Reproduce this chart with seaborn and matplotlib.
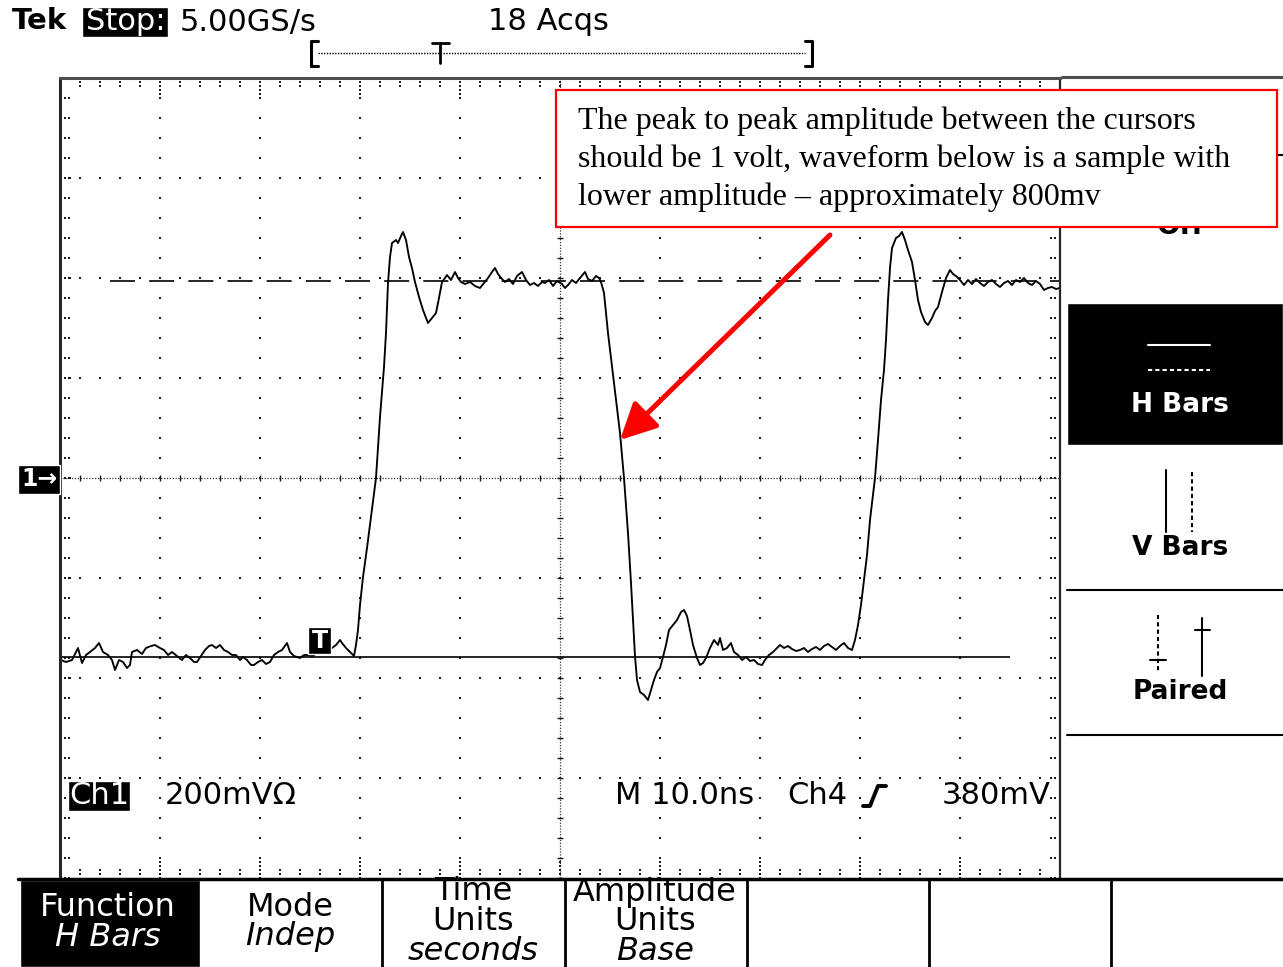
import numpy as np
import matplotlib.pyplot as plt
import seaborn as sns
from matplotlib.patches import Rectangle, FancyArrowPatch
from matplotlib.lines import Line2D

# ── CONFIG ────────────────────────────────────────────────────────────────────
OUT_FILE = "out.png"
W, H = 1283, 967            # screen size in pixels

NS_PER_DIV = 10             # M 10.0ns
MV_PER_DIV = 200            # Ch1 200mV

# ── DATA ──────────────────────────────────────────────────────────────────────
# time (ns from left edge of graticule) and Ch1 voltage (mV from the 1-> marker)
TRACE_T_NS = [
    # low level before the trigger
    0.1, 0.6, 1.2, 1.8, 2.2, 2.6, 3.0, 3.5, 3.9, 4.3,
    4.8, 5.2, 5.5, 5.9, 6.3, 6.7, 7.0, 7.2, 7.7, 8.2,
    8.6, 9.1, 9.5, 10.0, 10.4, 10.8, 11.2, 11.7, 12.2, 12.6,
    13.0, 13.4, 13.7, 14.1, 14.5, 14.9, 15.2, 15.6, 16.0, 16.4,
    16.8, 17.2, 17.6, 18.0, 18.3, 18.7, 19.1, 19.4, 19.8, 20.2,
    20.6, 21.0, 21.4, 21.8, 22.2, 22.7, 23.0, 23.4, 24.0, 24.4,
    24.8, 25.2, 25.6, 26.0, 26.4, 26.8, 27.2, 27.6, 28.0, 28.2,
    28.6, 29.0, 29.4,
    # first rising edge + high level
    29.6, 29.8, 30.0, 30.3, 30.7, 31.1, 31.6, 32.0, 32.4, 32.6,
    32.8, 33.0, 33.2, 33.6, 33.8, 34.1, 34.3, 34.6, 34.9, 35.2,
    35.5, 35.9, 36.3, 36.8, 37.2, 37.6, 37.9, 38.2, 38.5, 38.7,
    39.1, 39.5, 39.8, 40.1, 40.5, 41.0, 41.5, 42.0, 42.4, 42.8,
    43.2, 43.5, 43.8, 44.2, 44.5, 44.9, 45.3, 45.7, 46.2, 46.6,
    47.0, 47.4, 47.8, 48.2, 48.5, 48.9, 49.3, 49.7, 50.2, 50.5,
    50.8, 51.2, 51.6, 52.0, 52.5, 52.8, 53.2, 53.6, 53.9, 54.1,
    # falling edge + low level
    54.4, 54.8, 55.4, 56.0, 56.4, 56.8, 57.1, 57.5, 57.7, 58.0,
    58.4, 58.8, 59.1, 59.4, 59.7, 60.0, 60.3, 60.6, 60.9, 61.3,
    61.7, 62.1, 62.4, 62.7, 63.0, 63.3, 63.7, 64.0, 64.3, 64.6,
    65.0, 65.4, 65.8, 66.0, 66.3, 66.7, 67.1, 67.4, 67.8, 68.2,
    68.6, 69.0, 69.4, 69.8, 70.2, 70.5, 70.9, 71.3, 71.7, 72.0,
    72.4, 72.8, 73.2, 73.6, 74.0, 74.4, 74.8, 75.2, 75.6, 76.0,
    76.4, 76.8, 77.2, 77.6, 78.0, 78.4, 78.8, 79.2, 79.5,
    # second rising edge + high level
    79.8, 80.1, 80.4, 80.7, 81.0, 81.3, 81.5, 81.8, 82.1, 82.4,
    82.6, 82.8, 83.0, 83.2, 83.6, 83.9, 84.2, 84.5, 84.8, 85.2,
    85.5, 85.8, 86.1, 86.5, 86.8, 87.2, 87.5, 87.8, 88.2, 88.6,
    89.0, 89.3, 89.6, 90.0, 90.4, 90.8, 91.2, 91.6, 92.0, 92.4,
    92.8, 93.2, 93.6, 94.0, 94.4, 94.8, 95.2, 95.6, 96.0, 96.4,
    96.8, 97.2, 97.6, 98.0, 98.4, 98.8, 99.2, 99.6, 100.0,
]
TRACE_V_MV = [
    -364, -368, -364, -340, -370, -354, -348, -340, -330, -348,
    -354, -364, -384, -364, -368, -380, -374, -348, -344, -352,
    -340, -336, -334, -340, -344, -354, -348, -356, -364, -354,
    -360, -368, -368, -356, -344, -336, -334, -340, -334, -344,
    -348, -354, -354, -364, -358, -364, -374, -374, -368, -364,
    -372, -368, -354, -348, -344, -330, -348, -356, -360, -354,
    -354, -356, -352, -344, -348, -348, -340, -334, -324, -330,
    -340, -348, -356,
    -334, -304, -254, -198, -140, -78, 0, 122, 222, 290,
    390, 442, 470, 476, 470, 484, 492, 476, 442, 420,
    392, 362, 336, 310, 320, 330, 360, 392, 400, 406,
    396, 412, 400, 392, 388, 392, 384, 380, 390, 400,
    412, 420, 408, 398, 392, 398, 388, 404, 412, 396,
    386, 390, 384, 392, 390, 396, 384, 394, 388, 380,
    386, 396, 390, 400, 412, 398, 394, 404, 400, 392,
    370, 290, 190, 90, 0, -110, -210, -356, -404, -428,
    -434, -444, -424, -404, -388, -380, -358, -334, -304, -294,
    -284, -268, -264, -276, -304, -334, -360, -374, -370, -360,
    -340, -324, -334, -320, -344, -340, -330, -348, -354, -364,
    -358, -366, -364, -372, -374, -364, -354, -348, -340, -334,
    -340, -336, -342, -346, -344, -340, -348, -342, -338, -344,
    -336, -332, -338, -344, -336, -330, -340, -344, -324,
    -294, -254, -204, -154, -84, -34, 0, 76, 156, 216,
    276, 356, 420, 460, 480, 484, 492, 476, 456, 432,
    396, 356, 332, 312, 306, 320, 334, 342, 372, 400,
    416, 408, 404, 396, 386, 396, 388, 398, 390, 384,
    392, 396, 388, 382, 390, 394, 386, 396, 392, 400,
    390, 386, 394, 388, 376, 380, 382, 378, 380,
]

# H-bar cursors: upper one dashed, lower one solid
CURSOR_MV = [394, -358]
CURSOR_SPAN_NS = [(5, 100), (0, 95)]

HEADER = ["Tek", "Stop:", "5.00GS/s", "18 Acqs"]
READOUT = ["Ch1", "200mVΩ", "M 10.0ns", "Ch4", "380mV"]
SIDE_MENU = ["Off", "H Bars", "V Bars", "Paired"]
BOTTOM_MENU = [("Function", "H Bars"), ("Mode", "Indep"),
               ("Time", "Units", "seconds"), ("Amplitude", "Units", "Base")]
NOTE = ["The peak to peak amplitude between the cursors",
        "should be 1 volt, waveform below is a sample with",
        "lower amplitude \u2013 approximately 800mv"]

sns.set_theme(style="white")
plt.rcParams["font.family"] = ["DejaVu Sans"]
plt.rcParams["text.color"] = "black"

fig = plt.figure(figsize=(W / 100, H / 100), dpi=100, facecolor="white")


# ── helpers working in screen pixels (y from top) ─────────────────────────────
def fx(x):
    return x / W


def fy(y):
    return 1 - y / H


def ftext(x, y, s, **kw):
    kw.setdefault("va", "center")
    kw.setdefault("fontsize", 22)
    return fig.text(fx(x), fy(y), s, **kw)


def fline(xs, ys, **kw):
    kw.setdefault("color", "black")
    fig.add_artist(Line2D([fx(x) for x in xs], [fy(y) for y in ys],
                          transform=fig.transFigure, **kw))


def fbox(x0, y0, x1, y1, **kw):
    fig.add_artist(Rectangle((fx(x0), fy(y1)), fx(x1) - fx(x0), fy(y0) - fy(y1),
                             transform=fig.transFigure, **kw))


# ── graticule ─────────────────────────────────────────────────────────────────
ax = fig.add_axes([fx(60), fy(878), 1000 / W, 800 / H])
ax.set_facecolor("white")
xmax, ymax = 10 * NS_PER_DIV, 4 * MV_PER_DIV

minor_t = np.arange(0, xmax + 0.01, NS_PER_DIV / 5)
minor_v = np.arange(-ymax, ymax + 0.01, MV_PER_DIV / 5)
dot = dict(ls="none", marker="s", ms=1.6, mew=0, color="0.1")
for k in range(1, 10):
    if k != 5:
        ax.plot(np.full_like(minor_v, k * NS_PER_DIV), minor_v, **dot)
for k in (-3, -2, -1, 1, 2, 3):
    ax.plot(minor_t, np.full_like(minor_t, k * MV_PER_DIV), **dot)

# centre cross with tick marks
ax.axhline(0, color="0.2", lw=0.9, ls=(0, (1, 1.3)))
ax.axvline(xmax / 2, color="0.2", lw=0.9, ls=(0, (1, 1.3)))
ax.plot(minor_t, np.zeros_like(minor_t), ls="none", marker="|", ms=5, mew=1, color="0.1")
ax.plot(np.full_like(minor_v, xmax / 2), minor_v, ls="none", marker="_", ms=5, mew=1, color="0.1")

# edge ticks: pairs of dots at each minor step, four dots at each division
mv_px, ns_px = MV_PER_DIV / 100, NS_PER_DIV / 100
for sign in (1, -1):
    for off in (4, 8):
        ax.plot(minor_t, np.full_like(minor_t, sign * (ymax - off * mv_px)), **dot)
    for off in (12, 16):
        major_t = np.arange(NS_PER_DIV, xmax, NS_PER_DIV)
        ax.plot(major_t, np.full_like(major_t, sign * (ymax - off * mv_px)), **dot)
for side in (0, xmax):
    sgn = 1 if side == 0 else -1
    for off in (5, 9):
        ax.plot(np.full_like(minor_v, side + sgn * off * ns_px), minor_v, **dot)
    for off in (13, 17):
        major_v = np.arange(-ymax + MV_PER_DIV, ymax, MV_PER_DIV)
        ax.plot(np.full_like(major_v, side + sgn * off * ns_px), major_v, **dot)

# ── waveform + cursors ────────────────────────────────────────────────────────
sns.lineplot(x=TRACE_T_NS, y=TRACE_V_MV, ax=ax, color="black", lw=1.35,
             sort=False, estimator=None, legend=False)
for lvl, (a, b), style in zip(CURSOR_MV, CURSOR_SPAN_NS, [(0, (15, 8.5)), "solid"]):
    ax.hlines(lvl, a, b, color="black", lw=1.2, linestyles=[style])

ax.set_xlim(0, xmax)
ax.set_ylim(-ymax, ymax)
ax.set_xticks([]); ax.set_yticks([])
ax.set_xlabel(""); ax.set_ylabel("")
ax.spines["left"].set(color="0.15", lw=2.2)
ax.spines["right"].set(color="0.15", lw=1.6)
ax.spines["top"].set(color="0.3", lw=2.2)
ax.spines["bottom"].set_visible(False)

# trigger marker on the trace
fbox(308, 627, 331, 654, facecolor="black", zorder=4)
ftext(319.5, 641, "T", ha="center", color="white", fontsize=17, fontweight="bold", zorder=5)

# ground marker "1->"
fbox(18, 465, 60, 494, facecolor="black", zorder=4)
ftext(39, 479, "1\u2192", ha="center", color="white", fontsize=17, fontweight="bold", zorder=5)

# ── header ────────────────────────────────────────────────────────────────────
ftext(12, 21, HEADER[0], fontweight="bold", fontsize=21)
fbox(82, 7, 168, 37, facecolor="black")
ftext(86, 22, HEADER[1], color="white")
ftext(180, 22, HEADER[2])
ftext(488, 22, HEADER[3])

# record-length bracket with trigger position
fline([318, 311, 311, 318], [41, 41, 66, 66], lw=2.2)
fline([805, 812, 812, 805], [41, 41, 66, 66], lw=2.2)
fline([318, 805], [53, 53], lw=1, ls=(0, (1, 1)))
fline([432, 449], [43, 43], lw=2)
fline([440, 440], [43, 63], lw=2)

# ── readout line ──────────────────────────────────────────────────────────────
fbox(68, 781, 130, 811, facecolor="black")
ftext(99, 796, READOUT[0], ha="center", color="white")
ftext(165, 796, READOUT[1])
ftext(615, 796, READOUT[2])
ftext(787, 796, READOUT[3])
fline([863, 870, 878, 886], [806, 806, 786, 786], lw=2.8)
ftext(942, 796, READOUT[4])

# ── side menu ─────────────────────────────────────────────────────────────────
fline([1062, 1283], [77, 77], lw=2.2, color="0.3")
ftext(1180, 226, SIDE_MENU[0], ha="center", fontsize=20, fontweight="bold")
fbox(1067, 303, 1283, 445, facecolor="black")
fline([1148, 1210], [345, 345], lw=1.5, color="white")
fline([1148, 1210], [370, 370], lw=1.5, color="white", ls=(0, (2, 1.5)))
ftext(1180, 405, SIDE_MENU[1], ha="center", color="white", fontsize=19, fontweight="bold")
fline([1166, 1166], [470, 532], lw=1.5)
fline([1192, 1192], [472, 532], lw=1.5, ls=(0, (2, 1.5)))
ftext(1180, 548, SIDE_MENU[2], ha="center", fontsize=19, fontweight="bold")
fline([1067, 1283], [590, 590], lw=1.5)
fline([1158, 1158], [615, 672], lw=1.5, ls=(0, (2, 1.5)))
fline([1150, 1166], [660, 660], lw=1.5)
fline([1202, 1202], [618, 676], lw=1.5)
fline([1195, 1210], [630, 630], lw=1.5)
ftext(1180, 692, SIDE_MENU[3], ha="center", fontsize=19, fontweight="bold")
fline([1067, 1283], [735, 735], lw=1.5)
fline([1276, 1283], [155, 155], lw=1.5)

# ── bottom menu ───────────────────────────────────────────────────────────────
fline([18, 1283], [879, 879], lw=2.5)
fbox(20, 880, 200, 967, facecolor="black")
for xs in [382, 565, 747, 929, 1111]:
    fline([xs, xs], [880, 967], lw=2)
menu_x = [108, 290, 473, 655]
for mx, labels in zip(menu_x, BOTTOM_MENU):
    col = "white" if labels[0] == "Function" else "black"
    ys = [907, 937] if len(labels) == 2 else [892, 922, 952]
    for i, (yy, lab) in enumerate(zip(ys, labels)):
        italic = i == len(labels) - 1
        ftext(mx, yy, lab, ha="center", color=col, fontsize=23,
              style="italic" if italic else "normal")

# ── annotation ────────────────────────────────────────────────────────────────
fbox(556, 90, 1277, 227, facecolor="white", edgecolor="#ff0000", lw=1.6, zorder=10)
for yy, line in zip([121, 159, 197], NOTE):
    ftext(578, yy, line, family="Liberation Serif", fontsize=23, zorder=11)
fig.add_artist(FancyArrowPatch((fx(830), fy(235)), (fx(620), fy(440)),
                               transform=fig.transFigure,
                               arrowstyle="-|>,head_length=1.1,head_width=0.55",
                               mutation_scale=20, lw=3.6, color="#ff0000",
                               shrinkA=0, shrinkB=0, zorder=12))

fig.savefig(OUT_FILE, dpi=100, facecolor="white")
